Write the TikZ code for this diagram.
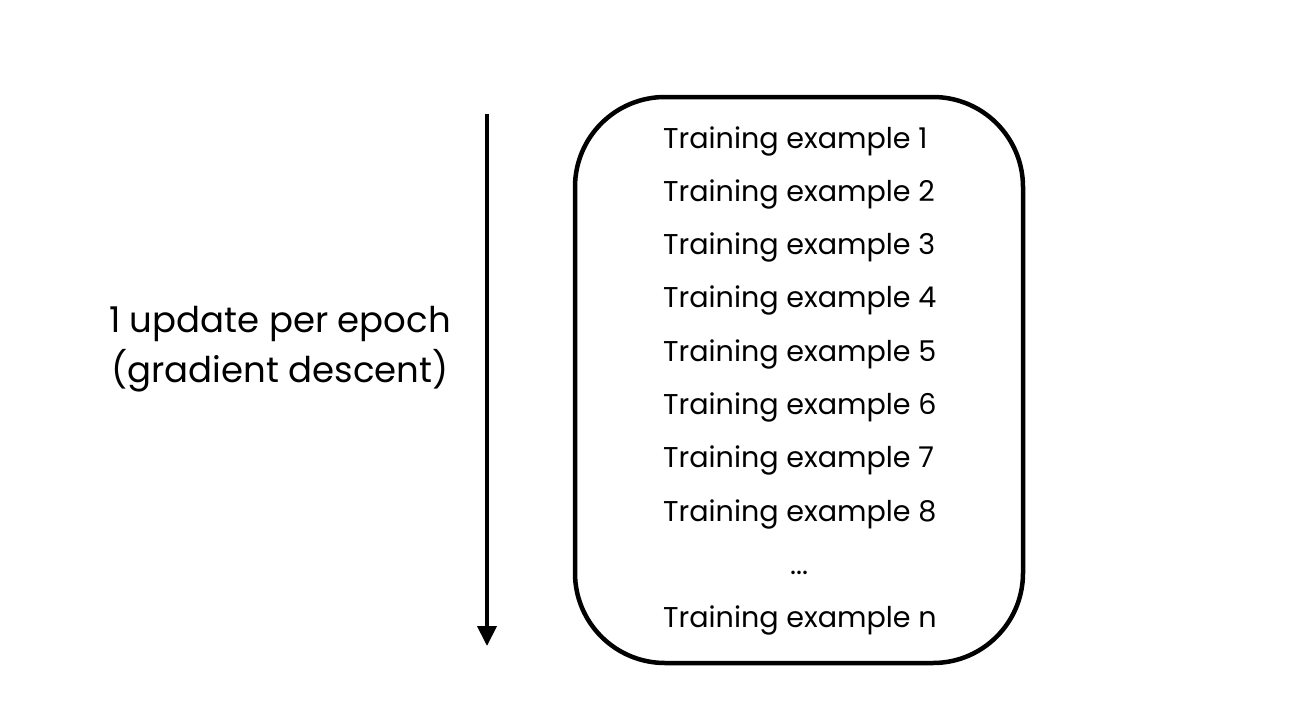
\documentclass[tikz,border=0pt]{standalone}
\usepackage{fontspec}
\setmainfont{Poppins}
\usetikzlibrary{arrows.meta}
\begin{document}
\begin{tikzpicture}[x=1pt,y=-1pt,
  rowtext/.style={anchor=base west,inner sep=0pt,font=\fontsize{28.6}{34}\selectfont},
  sidetext/.style={inner sep=0pt,font=\fontsize{35.5}{50}\selectfont},
  framebox/.style={draw,line width=4.5pt,rounded corners=90pt,minimum width=448pt,minimum height=566pt,inner sep=0pt},
  flow/.style={line width=4pt,-{Triangle[length=20pt,width=19pt]}}]
\useasboundingbox (0,0) rectangle (1316,720);
\node[framebox] (box) at (799,380) {};
\foreach \i/\t in {1/1,2/2,3/3,4/4,5/5,6/6,7/7,8/8,10/n}{
  \node[rowtext] (r\i) at (663,{148+53.3*(\i-1)}) {Training example \t};
}
\node[anchor=base,inner sep=0pt,font=\fontsize{28.6}{34}\selectfont] (dots) at (799,{148+53.3*8}) {...};
\coordinate (atop) at (487,114);
\coordinate (abot) at (487,646);
\draw[flow] (atop) -- (abot);
\node[sidetext,anchor=base] (side1) at (280,332) {1 update per epoch};
\node[sidetext,anchor=base] (side2) at (280,382) {(gradient descent)};
\end{tikzpicture}
\end{document}
